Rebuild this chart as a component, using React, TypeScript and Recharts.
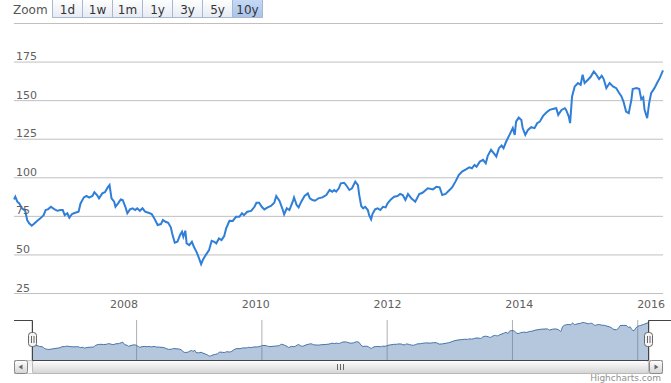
import { LineChart, Line, AreaChart, Area, XAxis, YAxis, CartesianGrid } from "recharts"

const years = [
  2006.33, 2006.35, 2006.38, 2006.41, 2006.45, 2006.5, 2006.53, 2006.56, 2006.6, 2006.63, 2006.68, 2006.73,
  2006.78, 2006.81, 2006.85, 2006.89, 2006.94, 2006.99, 2007.04, 2007.07, 2007.1, 2007.14, 2007.17, 2007.21,
  2007.26, 2007.31, 2007.34, 2007.39, 2007.43, 2007.47, 2007.52, 2007.55, 2007.59, 2007.62, 2007.67, 2007.71,
  2007.75, 2007.78, 2007.81, 2007.85, 2007.87, 2007.91, 2007.95, 2007.98, 2008.02, 2008.05, 2008.09, 2008.13,
  2008.17, 2008.2, 2008.24, 2008.28, 2008.32, 2008.37, 2008.42, 2008.46, 2008.51, 2008.56, 2008.59, 2008.63,
  2008.67, 2008.71, 2008.73, 2008.77, 2008.81, 2008.85, 2008.88, 2008.9, 2008.93, 2008.95, 2008.99, 2009.03,
  2009.06, 2009.1, 2009.13, 2009.17, 2009.2, 2009.24, 2009.29, 2009.33, 2009.37, 2009.4, 2009.44, 2009.48,
  2009.52, 2009.55, 2009.6, 2009.65, 2009.7, 2009.75, 2009.79, 2009.82, 2009.87, 2009.93, 2009.98, 2010.01,
  2010.05, 2010.09, 2010.13, 2010.18, 2010.23, 2010.28, 2010.31, 2010.36, 2010.41, 2010.43, 2010.47, 2010.51,
  2010.56, 2010.58, 2010.62, 2010.65, 2010.69, 2010.74, 2010.79, 2010.82, 2010.86, 2010.9, 2010.95, 2011.01,
  2011.07, 2011.12, 2011.16, 2011.19, 2011.22, 2011.26, 2011.29, 2011.34, 2011.37, 2011.42, 2011.46, 2011.51,
  2011.55, 2011.57, 2011.6, 2011.63, 2011.66, 2011.7, 2011.72, 2011.75, 2011.77, 2011.81, 2011.85, 2011.89,
  2011.93, 2011.97, 2012.0, 2012.05, 2012.1, 2012.15, 2012.19, 2012.23, 2012.27, 2012.31, 2012.36, 2012.42,
  2012.48, 2012.53, 2012.61, 2012.69, 2012.74, 2012.79, 2012.83, 2012.88, 2012.94, 2012.98, 2013.03, 2013.08,
  2013.13, 2013.19, 2013.24, 2013.28, 2013.32, 2013.35, 2013.4, 2013.45, 2013.49, 2013.52, 2013.57, 2013.62,
  2013.65, 2013.69, 2013.73, 2013.76, 2013.8, 2013.85, 2013.9, 2013.93, 2013.95, 2013.99, 2014.03, 2014.05,
  2014.09, 2014.13, 2014.18, 2014.23, 2014.27, 2014.31, 2014.36, 2014.41, 2014.46, 2014.52, 2014.56, 2014.59,
  2014.64, 2014.69, 2014.71, 2014.75, 2014.77, 2014.8, 2014.84, 2014.89, 2014.93, 2014.96, 2014.99, 2015.03,
  2015.08, 2015.13, 2015.17, 2015.21, 2015.25, 2015.28, 2015.32, 2015.37, 2015.42, 2015.47, 2015.51, 2015.55,
  2015.58, 2015.62, 2015.66, 2015.7, 2015.72, 2015.78, 2015.82, 2015.85, 2015.88, 2015.9, 2015.94, 2015.97,
  2016.0, 2016.05, 2016.09, 2016.13, 2016.18,
]

const prices = [
  86.0, 87.7, 84.5, 83.4, 80.2, 78.6, 72.6, 70.5, 68.9, 70.0, 72.0, 73.7,
  75.8, 79.1, 79.7, 81.2, 79.7, 78.6, 79.1, 79.1, 75.8, 77.0, 74.1, 76.5,
  77.3, 78.0, 83.4, 87.3, 88.2, 87.1, 88.2, 90.6, 88.8, 86.7, 89.9, 90.6,
  93.6, 95.3, 86.7, 84.5, 81.2, 83.4, 86.0, 85.6, 81.2, 77.0, 79.5, 80.2,
  79.1, 80.2, 78.6, 80.2, 78.0, 77.3, 76.5, 73.7, 69.4, 70.0, 72.6, 71.5,
  70.8, 67.9, 64.0, 57.9, 58.5, 62.9, 65.0, 61.8, 65.7, 57.5, 56.4, 58.5,
  55.3, 52.0, 48.8, 44.0, 47.1, 49.9, 53.1, 59.2, 58.5, 57.5, 60.7, 59.6,
  62.2, 67.2, 72.1, 72.0, 74.7, 74.7, 77.0, 75.8, 78.0, 78.5, 81.2, 83.8,
  83.8, 81.2, 79.5, 80.8, 81.7, 83.8, 88.2, 85.0, 79.1, 76.3, 80.2, 79.1,
  84.5, 87.3, 82.3, 80.8, 84.5, 88.2, 89.9, 86.7, 85.6, 85.1, 86.7, 87.3,
  88.8, 92.1, 91.0, 92.1, 91.0, 93.2, 96.4, 96.8, 95.3, 92.1, 93.2, 97.5,
  95.3, 88.8, 81.7, 80.2, 81.2, 79.1, 75.8, 73.1, 76.5, 79.5, 80.2, 79.1,
  81.2, 80.8, 83.4, 86.0, 87.7, 88.2, 89.5, 88.8, 85.6, 89.5, 86.7, 84.5,
  89.5, 90.3, 93.2, 92.5, 94.2, 93.8, 88.8, 89.5, 92.1, 93.8, 97.5, 101.8,
  104.0, 105.5, 106.8, 106.2, 108.3, 107.2, 110.5, 111.6, 109.4, 114.2, 118.1, 115.5,
  113.7, 119.2, 120.9, 119.2, 123.5, 127.8, 132.2, 127.8, 136.4, 139.0, 137.5, 132.2,
  127.8, 131.0, 132.8, 132.2, 135.4, 136.4, 140.1, 142.3, 144.0, 144.7, 145.1, 140.8,
  144.0, 145.1, 144.0, 139.7, 135.4, 152.7, 159.2, 161.4, 160.3, 166.8, 161.4, 163.1,
  165.3, 168.9, 166.8, 164.0, 166.1, 164.0, 158.1, 161.4, 159.2, 158.1, 155.3, 152.7,
  149.4, 142.9, 141.9, 150.5, 157.5, 158.1, 157.5, 151.0, 152.3, 144.0, 138.6, 148.4,
  154.8, 158.1, 161.4, 164.6, 169.6,
]

const priceTicks = [25, 50, 75, 100, 125, 150, 175, 200]
const yearTicks = [2008, 2010, 2012, 2014, 2016]
const zoomButtons = ["1d", "1w", "1m", "1y", "3y", "5y", "10y"]
const selectedZoom = "10y"

const data = years.map((t, i) => ({ t, price: prices[i] }))

const font = "'DejaVu Sans', Verdana, sans-serif"

function PriceTick(props: any) {
  const { y, payload } = props
  // top grid line has no label in the original (hidden behind the zoom row)
  if (payload.value === 200) return <g />
  return (
    <text x={16} y={y - 2} fill="#606060" fontSize={11} fontFamily={font}>
      {payload.value}
    </text>
  )
}

function YearTick(props: any) {
  const { x, y, payload } = props
  return (
    <text x={x} y={y + 14} textAnchor="middle" fill="#606060" fontSize={11} fontFamily={font}>
      {payload.value}
    </text>
  )
}

function NavTick(props: any) {
  const { x, y, payload } = props
  return (
    <text x={x + 3} y={y - 4} fill="#808080" fontSize={11} fontFamily={font}>
      {payload.value}
    </text>
  )
}

function Handle({ x }: { x: number }) {
  return (
    <g>
      <rect x={x - 4} y={332.5} width={8} height={14} rx={3} fill="#f4f4f4" stroke="#666" />
      <line x1={x - 1} x2={x - 1} y1={336} y2={343} stroke="#666" />
      <line x1={x + 1.5} x2={x + 1.5} y1={336} y2={343} stroke="#666" />
    </g>
  )
}

export default function App() {
  return (
    <div style={{ position: "absolute", left: 0, top: 0, width: 671, height: 383, background: "#fff", overflow: "hidden", fontFamily: font }}>
      <div style={{ position: "absolute", left: 0, top: 0 }}>
        <LineChart width={671} height={316} data={data} margin={{ top: 23.5, right: 8, bottom: 0.5, left: 0 }}>
          <CartesianGrid vertical={false} stroke="#c0c0c0" />
          <XAxis
            dataKey="t"
            type="number"
            domain={["dataMin", "dataMax"]}
            ticks={yearTicks}
            height={22}
            axisLine={false}
            tickLine={false}
            tickSize={0}
            tickMargin={0}
            tick={<YearTick />}
          />
          <YAxis
            type="number"
            domain={[25, 200]}
            ticks={priceTicks}
            interval={0}
            width={14}
            axisLine={false}
            tickLine={false}
            tick={<PriceTick />}
          />
          <Line type="linear" dataKey="price" stroke="#2f7ed8" strokeWidth={2} dot={false} isAnimationActive={false} />
        </LineChart>
      </div>

      <div style={{ position: "absolute", left: 0, top: 300 }}>
        <AreaChart width={671} height={60} data={data} margin={{ top: 20, right: 22, bottom: 0, left: 32 }}>
          <CartesianGrid horizontal={false} stroke="#b0b0b0" />
          <XAxis
            dataKey="t"
            type="number"
            domain={["dataMin", "dataMax"]}
            ticks={yearTicks}
            height={0}
            axisLine={false}
            tickLine={false}
            tickSize={0}
            tickMargin={0}
            tick={<NavTick />}
          />
          <YAxis type="number" domain={[30, 178]} hide />
          <Area
            type="monotone"
            dataKey="price"
            stroke="#4572a7"
            strokeWidth={1}
            fill="#4572a7"
            fillOpacity={0.4}
            isAnimationActive={false}
          />
        </AreaChart>
      </div>

      <svg width={671} height={383} style={{ position: "absolute", left: 0, top: 0, pointerEvents: "none" }}>
        <defs>
          <linearGradient id="btn" x1="0" y1="0" x2="0" y2="1">
            <stop offset="0" stopColor="#ffffff" />
            <stop offset="1" stopColor="#e6ebf3" />
          </linearGradient>
          <linearGradient id="btnSel" x1="0" y1="0" x2="0" y2="1">
            <stop offset="0" stopColor="#c8dbf6" />
            <stop offset="1" stopColor="#a9c3ec" />
          </linearGradient>
          <linearGradient id="bar" x1="0" y1="0" x2="0" y2="1">
            <stop offset="0" stopColor="#ffffff" />
            <stop offset="1" stopColor="#d4d4d4" />
          </linearGradient>
          <linearGradient id="track" x1="0" y1="0" x2="0" y2="1">
            <stop offset="0" stopColor="#eeeeee" />
            <stop offset="1" stopColor="#ffffff" />
          </linearGradient>
        </defs>

        <text x={13} y={14} fontSize={12} fill="#555" fontFamily={font}>Zoom</text>
        {zoomButtons.map((b, i) => {
          const bx = 52 + i * 30
          const sel = b === selectedZoom
          return (
            <g key={b}>
              <rect x={bx + 0.5} y={-1.5} width={30} height={19} fill={sel ? "url(#btnSel)" : "url(#btn)"} stroke="#aab8cf" />
              <text x={bx + 15.5} y={13.5} textAnchor="middle" fontSize={12} fill="#333" fontFamily={font}>{b}</text>
            </g>
          )
        })}

        <rect x={14.5} y={360.5} width={648} height={13} fill="url(#track)" stroke="#c8c8c8" />
        <rect x={32.5} y={360.5} width={616} height={13} rx={2} fill="url(#bar)" stroke="#b8b8b8" />
        <line x1={337.5} x2={337.5} y1={364} y2={370} stroke="#666" />
        <line x1={340.5} x2={340.5} y1={364} y2={370} stroke="#666" />
        <line x1={343.5} x2={343.5} y1={364} y2={370} stroke="#666" />
        <rect x={14.5} y={360.5} width={13} height={13} rx={2} fill="url(#bar)" stroke="#888" />
        <path d="M18.5 367 L22.5 364.5 L22.5 369.5 Z" fill="#666" />
        <rect x={649.5} y={360.5} width={13} height={13} rx={2} fill="url(#bar)" stroke="#888" />
        <path d="M658.5 367 L654.5 364.5 L654.5 369.5 Z" fill="#666" />

        <path d="M14 320.5 L32.5 320.5 L32.5 360.5 L648.5 360.5 L648.5 320.5 L671 320.5" fill="none" stroke="#444" />
        <Handle x={32.5} />
        <Handle x={648.5} />

        <text x={661} y={381} textAnchor="end" fontSize={9} fill="#909090" fontFamily={font}>Highcharts.com</text>
      </svg>
    </div>
  )
}
